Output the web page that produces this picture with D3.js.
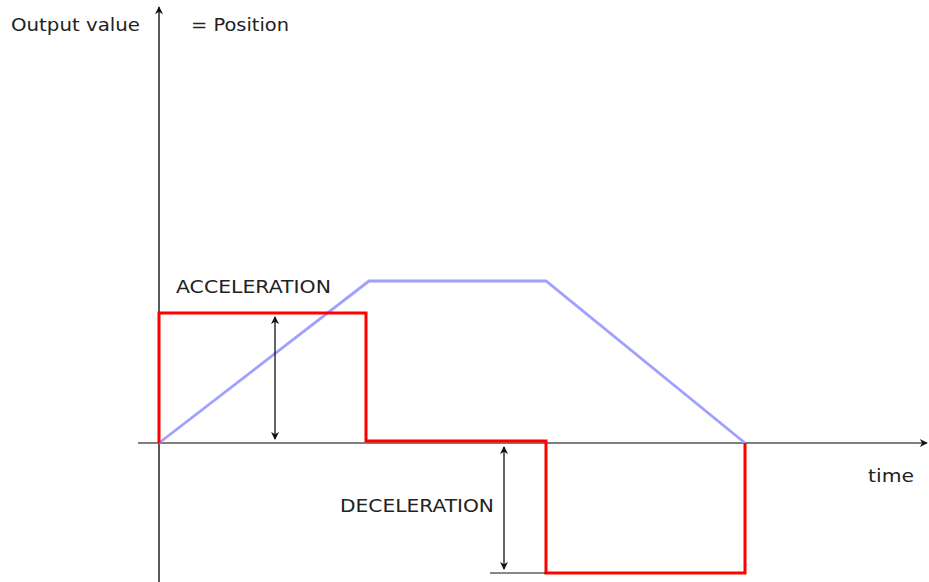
<!DOCTYPE html>
<html>
<head>
  <meta charset="utf-8">
  <script src="https://d3js.org/d3.v7.min.js"></script>
  <style>
    body { margin: 0; background: #fff; }
    text { font-family: "DejaVu Sans", Verdana, sans-serif; fill: #222; }
  </style>
</head>
<body>
<div id="chart"></div>
<script>
// time breakpoints of the motion profile
var accelTime = [0, 0, 2.07, 2.07, 3.87, 3.87, 5.86, 5.86];
var accelValue = [0, 1, 1, 0.015, 0.015, -1, -1, 0];

var posTime = [0, 2.1, 3.87, 5.86];
var posValue = [0, 1.246, 1.246, 0];

var labels = ["Output value", "= Position", "ACCELERATION", "DECELERATION", "time"];

var width = 929, height = 582;

var svg = d3.select("#chart")
  .append("svg")
    .attr("width", width)
    .attr("height", height);

// x: time, y: output value
var x = d3.scaleLinear().domain([0, 1]).range([159, 259]);
var y = d3.scaleLinear().domain([0, 1]).range([443, 313]);

var defs = svg.append("defs");
function marker(id, w, h) {
  defs.append("marker")
      .attr("id", id)
      .attr("viewBox", "0 0 10 10")
      .attr("refX", 9).attr("refY", 5)
      .attr("markerWidth", w).attr("markerHeight", h)
      .attr("markerUnits", "userSpaceOnUse")
      .attr("orient", "auto-start-reverse")
    .append("path")
      .attr("d", "M0,0 L10,5 L0,10 L3,5 Z")
      .attr("fill", "#111");
}
marker("head", 10, 8);
marker("big", 13, 8);

// axes
svg.append("line")
    .attr("x1", x(0)).attr("x2", x(0))
    .attr("y1", height).attr("y2", 7)
    .attr("stroke", "#222").attr("stroke-width", 1.5)
    .attr("marker-end", "url(#big)");

svg.append("line")
    .attr("x1", x(-0.21)).attr("x2", x(7.68))
    .attr("y1", y(0)).attr("y2", y(0))
    .attr("stroke", "#555").attr("stroke-width", 1.5)
    .attr("marker-end", "url(#head)");

// position (trapezoid)
var line = d3.line()
  .x(function(d) { return x(d[0]); })
  .y(function(d) { return y(d[1]); });

svg.append("path")
    .datum(d3.zip(posTime, posValue))
    .attr("d", line)
    .attr("fill", "none")
    .attr("stroke", "#a0a0ff")
    .attr("stroke-width", 2.8);

// acceleration (red steps)
svg.append("path")
    .datum(d3.zip(accelTime, accelValue))
    .attr("d", line)
    .attr("fill", "none")
    .attr("stroke", "#ff0000")
    .attr("stroke-width", 3);

// double arrows
svg.append("line")
    .attr("x1", x(1.16)).attr("x2", x(1.16))
    .attr("y1", y(0.03)).attr("y2", y(0.97))
    .attr("stroke", "#111").attr("stroke-width", 1.3)
    .attr("marker-start", "url(#head)")
    .attr("marker-end", "url(#head)");

svg.append("line")
    .attr("x1", x(3.45)).attr("x2", x(3.45))
    .attr("y1", y(-0.03)).attr("y2", y(-0.97))
    .attr("stroke", "#111").attr("stroke-width", 1.3)
    .attr("marker-start", "url(#head)")
    .attr("marker-end", "url(#head)");

svg.append("line")
    .attr("x1", x(3.31)).attr("x2", x(3.87))
    .attr("y1", y(-1)).attr("y2", y(-1))
    .attr("stroke", "#111").attr("stroke-width", 1);

// labels
function label(txt, px, py, len) {
  svg.append("text")
      .attr("x", px).attr("y", py)
      .attr("font-size", 18)
      .attr("textLength", len)
      .attr("lengthAdjust", "spacingAndGlyphs")
      .text(txt);
}
label(labels[0], 11, 31, 129);
label(labels[1], 191, 31, 98);
label(labels[2], 176, 293, 155);
label(labels[3], 340, 512, 154);
label(labels[4], 868, 482, 46);
</script>
</body>
</html>
